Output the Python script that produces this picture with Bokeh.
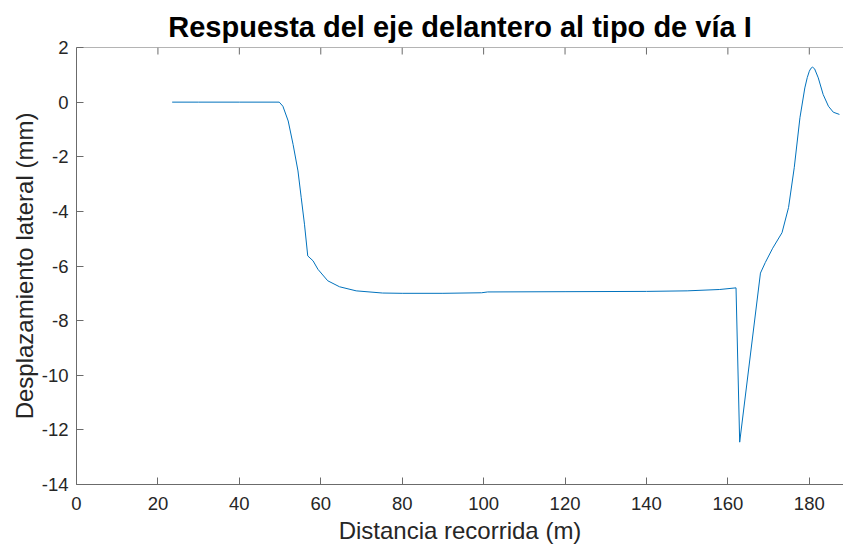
from bokeh.plotting import figure
from bokeh.models import LinearAxis, Range1d, FixedTicker, Span
from bokeh.embed import file_html
from bokeh.resources import INLINE

# Data
distance_m = [23.5, 30.0, 40.0, 49.8, 50.7, 52.0, 53.2, 54.4, 55.2, 56.0, 56.8,
              58.1, 59.3, 61.7, 64.6, 68.7, 75.2, 80.0, 90.0, 99.5, 101.0, 120.0,
              140.0, 150.0, 158.0, 162.0, 162.9, 168.0, 169.2, 171.0, 173.3, 174.9,
              176.3, 177.7, 178.9, 179.5, 180.0, 180.4, 180.8, 181.3, 182.2, 183.4,
              184.7, 185.9, 187.4]
lateral_mm = [0.0, 0.0, 0.0, 0.0, -0.15, -0.69, -1.55, -2.52, -3.50, -4.47, -5.63,
              -5.81, -6.12, -6.54, -6.76, -6.91, -6.99, -7.0, -7.0, -6.98, -6.95, -6.94,
              -6.93, -6.91, -6.86, -6.80, -12.45, -6.26, -5.87, -5.35, -4.78, -3.86,
              -2.40, -0.57, 0.52, 0.90, 1.13, 1.24, 1.28, 1.22, 0.89, 0.28,
              -0.15, -0.37, -0.45]

x_ticks = [0, 20, 40, 60, 80, 100, 120, 140, 160, 180]
y_ticks = [-14, -12, -10, -8, -6, -4, -2, 0, 2]
x_min, x_max = 0, 188.4
y_min, y_max = -14, 2

FONT = "Liberation Sans"
TXT = "#262626"
AXC = "#6b6b6b"

W, H = 843, 549
B_LEFT, B_TOP, B_BOTTOM = 76, 47, 65
frame_h = H - B_TOP - B_BOTTOM
TICK_PX = 7
tick_dy = TICK_PX * (y_max - y_min) / frame_h

p = figure(width=W, height=H, output_backend="svg", toolbar_location=None,
           x_range=Range1d(x_min, x_max), y_range=Range1d(y_min, y_max),
           x_axis_location=None, y_axis_location=None,
           min_border_left=B_LEFT, min_border_right=0, min_border_top=B_TOP,
           min_border_bottom=B_BOTTOM)
p.grid.visible = False
p.outline_line_color = None

p.title.text = "Respuesta del eje delantero al tipo de vía I"
p.title.align = "center"
p.title.text_font = FONT
p.title.text_font_size = "29px"
p.title.text_font_style = "bold"
p.title.text_color = "#000000"
p.title.standoff = 10

def style(ax):
    ax.axis_line_color = AXC
    ax.axis_line_width = 1
    ax.major_tick_line_color = AXC
    ax.major_tick_line_width = 1
    ax.major_tick_in = TICK_PX
    ax.major_tick_out = 0
    ax.minor_tick_in = 0
    ax.minor_tick_out = 0
    ax.major_label_text_font = FONT
    ax.major_label_text_color = TXT
    ax.major_label_text_font_size = "18.5px"
    ax.axis_label_text_font = FONT
    ax.axis_label_text_font_style = "normal"
    ax.axis_label_text_font_size = "24px"
    ax.axis_label_text_color = TXT

xb = LinearAxis(ticker=FixedTicker(ticks=x_ticks), axis_label="Distancia recorrida (m)")
style(xb)
xb.major_label_standoff = 12
xb.axis_label_standoff = 4
p.add_layout(xb, "below")

yl = LinearAxis(ticker=FixedTicker(ticks=y_ticks), axis_label="Desplazamiento lateral (mm)",
                major_label_overrides={t: str(t) for t in y_ticks})
style(yl)
yl.major_label_standoff = 8
yl.axis_label_standoff = 1
p.add_layout(yl, "left")

# top box edge with inward ticks (MATLAB "box on")
p.add_layout(Span(location=y_max, dimension="width", line_color=AXC, line_width=1))
nx = len(x_ticks)
p.segment(x0=x_ticks, y0=[y_max] * nx, x1=x_ticks, y1=[y_max - tick_dy] * nx,
          line_color=AXC, line_width=1)

p.line(distance_m, lateral_mm, line_color="#0072BD", line_width=1)

open("out.html", "w").write(file_html(p, INLINE))
